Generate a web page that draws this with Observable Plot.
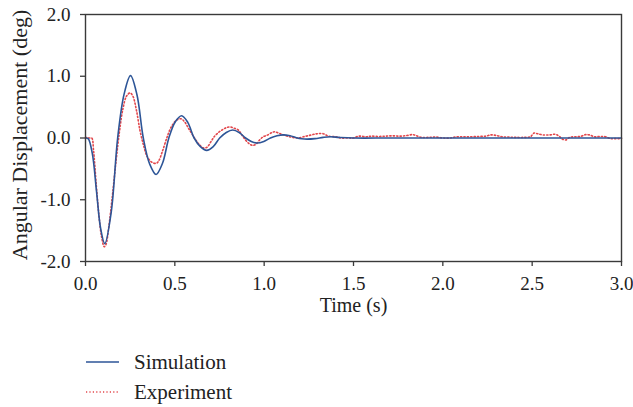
<!DOCTYPE html>
<html>
<head>
<meta charset="utf-8">
<script src="https://cdn.jsdelivr.net/npm/d3@7"></script>
<script src="https://cdn.jsdelivr.net/npm/@observablehq/plot@0.6"></script>
<style>
  html, body { margin: 0; padding: 0; background: #fff; }
  #chart { width: 633px; }
  .legend { position: relative; height: 72px; font-family: "Liberation Serif", serif; font-size: 21px; color: #222; }
  .legend .row { position: absolute; left: 86px; height: 26px; display: flex; align-items: center; }
  .legend svg { margin-right: 15px; }
</style>
</head>
<body>
<div id="chart"></div>
<script>
// Simulated response (s, deg)
const simTime = [0, 0.015, 0.038, 0.0615, 0.085, 0.108, 0.144, 0.18, 0.216, 0.252, 0.288, 0.3235, 0.359, 0.395,
  0.431, 0.4665, 0.502, 0.538, 0.573, 0.608, 0.643, 0.678, 0.715, 0.751, 0.788, 0.824, 0.86, 0.896, 0.928,
  0.96, 0.998, 1.035, 1.072, 1.108, 1.145, 1.18, 1.21, 1.24, 1.285, 1.33, 1.37, 1.42, 1.5, 1.7, 2.0, 2.5, 3.0];
const simAngle = [0, -0.01, -0.25, -0.86, -1.47, -1.71, -1.2, 0, 0.71, 1.01, 0.7, 0, -0.42, -0.59,
  -0.41, 0, 0.26, 0.36, 0.25, 0, -0.14, -0.2, -0.14, 0, 0.09, 0.13, 0.09, 0, -0.055,
  -0.08, -0.055, 0, 0.035, 0.05, 0.035, 0.005, -0.012, -0.018, -0.01, 0.01, 0.02, 0.01, 0, 0, 0, 0, 0];

// Measured response (s, deg)
const expTime = [0, 0.01, 0.02, 0.035, 0.045, 0.06, 0.075, 0.09, 0.105, 0.115, 0.13, 0.15, 0.17, 0.19, 0.21,
  0.23, 0.25, 0.265, 0.285, 0.305, 0.325, 0.345, 0.37, 0.395, 0.41, 0.43, 0.455, 0.48, 0.51, 0.535, 0.555,
  0.58, 0.61, 0.635, 0.66, 0.68, 0.7, 0.72, 0.745, 0.77, 0.79, 0.81, 0.83, 0.855, 0.875, 0.895, 0.915,
  0.935, 0.955, 0.975, 0.995, 1.02, 1.045, 1.06, 1.08, 1.1, 1.13, 1.16, 1.19, 1.22, 1.25, 1.28, 1.3,
  1.33, 1.36, 1.4, 1.43, 1.47, 1.5, 1.53, 1.57, 1.6, 1.64, 1.68, 1.72, 1.76, 1.8, 1.83, 1.85, 1.88,
  1.92, 1.96, 2.0, 2.04, 2.08, 2.12, 2.16, 2.2, 2.24, 2.27, 2.3, 2.33, 2.37, 2.41, 2.45, 2.49, 2.51,
  2.53, 2.56, 2.6, 2.63, 2.65, 2.67, 2.69, 2.71, 2.74, 2.77, 2.8, 2.82, 2.85, 2.88, 2.91, 2.94, 2.97, 3.0];
const expAngle = [0, 0.01, 0.0, 0.0, -0.2, -0.75, -1.25, -1.6, -1.76, -1.72, -1.45, -0.95, -0.4, 0.1, 0.48,
  0.68, 0.73, 0.68, 0.45, 0.12, -0.12, -0.3, -0.39, -0.41, -0.37, -0.22, 0.0, 0.18, 0.29, 0.31, 0.26,
  0.14, 0.0, -0.1, -0.16, -0.15, -0.07, 0.02, 0.09, 0.14, 0.17, 0.18, 0.16, 0.13, 0.05, -0.03, -0.09,
  -0.12, -0.1, -0.03, 0.02, 0.05, 0.09, 0.1, 0.08, 0.06, 0.03, 0.01, 0.0, 0.02, 0.04, 0.06, 0.07,
  0.07, 0.03, 0.02, 0.0, 0.0, 0.0, 0.03, 0.02, 0.03, 0.025, 0.03, 0.035, 0.03, 0.04, 0.055, 0.04, 0.01,
  0.01, 0.015, 0.0, 0.0, 0.02, 0.02, 0.02, 0.025, 0.03, 0.05, 0.04, 0.02, 0.015, 0.01, 0.01, 0.02, 0.08,
  0.07, 0.05, 0.05, 0.06, 0.03, -0.02, -0.03, 0.01, 0.02, 0.025, 0.055, 0.05, 0.02, 0.025, 0.02, -0.01, -0.01, -0.01];

const xTicks = [0, 0.5, 1.0, 1.5, 2.0, 2.5, 3.0];
const yTicks = [-2, -1, 0, 1, 2];
const seriesNames = ["Simulation", "Experiment"];
const seriesColors = ["#2d5597", "#e2474c"];

const sim = simTime.map((t, i) => ({t, v: simAngle[i]}));
const exp = expTime.map((t, i) => ({t, v: expAngle[i]}));
const fmt = d => d.toFixed(1);
const axisColor = "#3a3a3a";

const chart = Plot.plot({
  width: 633,
  height: 335,
  marginLeft: 85,
  marginRight: 12,
  marginTop: 14,
  marginBottom: 74,
  style: {fontFamily: "Liberation Serif, serif", fontSize: "19px", color: "#222", background: "#fff", overflow: "visible"},
  x: {domain: [0, 3]},
  y: {domain: [-2, 2]},
  marks: [
    Plot.axisX(xTicks, {tickSize: 5, tickPadding: 10, tickFormat: fmt, label: null, stroke: axisColor, strokeWidth: 1.3}),
    Plot.axisY(yTicks, {tickSize: 5, tickPadding: 10, tickFormat: fmt, label: null, stroke: axisColor, strokeWidth: 1.3}),
    Plot.line(exp, {x: "t", y: "v", stroke: seriesColors[1], strokeWidth: 1.6, strokeDasharray: "1.2,2.2", curve: "catmull-rom"}),
    Plot.line(sim, {x: "t", y: "v", stroke: seriesColors[0], strokeWidth: 1.6, curve: "catmull-rom"}),
    Plot.frame({stroke: axisColor, strokeWidth: 1.4}),
    Plot.text(["Time (s)"], {text: d => d, frameAnchor: "bottom", dy: 50, fontSize: 20, fill: "#222"}),
    Plot.text(["Angular Displacement (deg)"], {text: d => d, frameAnchor: "left", textAnchor: "middle", rotate: -90, dx: -66, dy: -3, fontSize: 22, fill: "#222"})
  ]
});
document.getElementById("chart").appendChild(chart);

// Legend below the plot
const legend = d3.select("#chart").append("div").attr("class", "legend");
seriesNames.forEach((name, i) => {
  const row = legend.append("div").attr("class", "row").style("top", `${14 + i * 30}px`);
  const sw = row.append("svg").attr("width", 33).attr("height", 6);
  sw.append("line")
    .attr("x1", 0).attr("x2", 33).attr("y1", 3).attr("y2", 3)
    .attr("stroke", seriesColors[i])
    .attr("stroke-width", 1.6)
    .attr("stroke-dasharray", i === 0 ? null : "1.2,2.2");
  row.append("span").text(name);
});
</script>
</body>
</html>
